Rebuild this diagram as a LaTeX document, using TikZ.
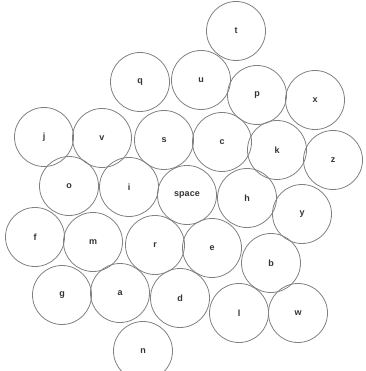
\documentclass[tikz,border=0pt]{standalone}
\usepackage{fontspec}
\setmainfont{Liberation Sans}
\usepackage{tikz}
\usetikzlibrary{positioning}

\tikzset{
  keyball/.style={circle, draw=black!50, line width=0.8pt, minimum size=59pt,
    inner sep=0pt, text=black!80, font=\bfseries\fontsize{9}{9}\selectfont}
}

\begin{document}
\begin{tikzpicture}[x=1pt, y=-1pt]
\useasboundingbox (0,0) rectangle (365,371);

% Keys (letter/x/y)
\foreach \key/\x/\y in {
  t/236/31, q/140/82, u/201/80, p/257/95, x/315/100,
  j/44/137, v/102/138, s/164/140, c/222/142, k/277/150, z/333/160,
  o/69/186, i/129/187, h/247/198, y/302/214,
  f/35/237, m/93/242, r/155/245, e/212/248, b/271/263,
  g/62/295, a/120/293, d/180/298, l/239/313, w/298/313,
  n/143/351
} {
  \node[keyball] (\key) at (\x,\y) {\key};
}

% Space bar
\node[keyball] (space) at (187,195) {space};
\end{tikzpicture}
\end{document}
